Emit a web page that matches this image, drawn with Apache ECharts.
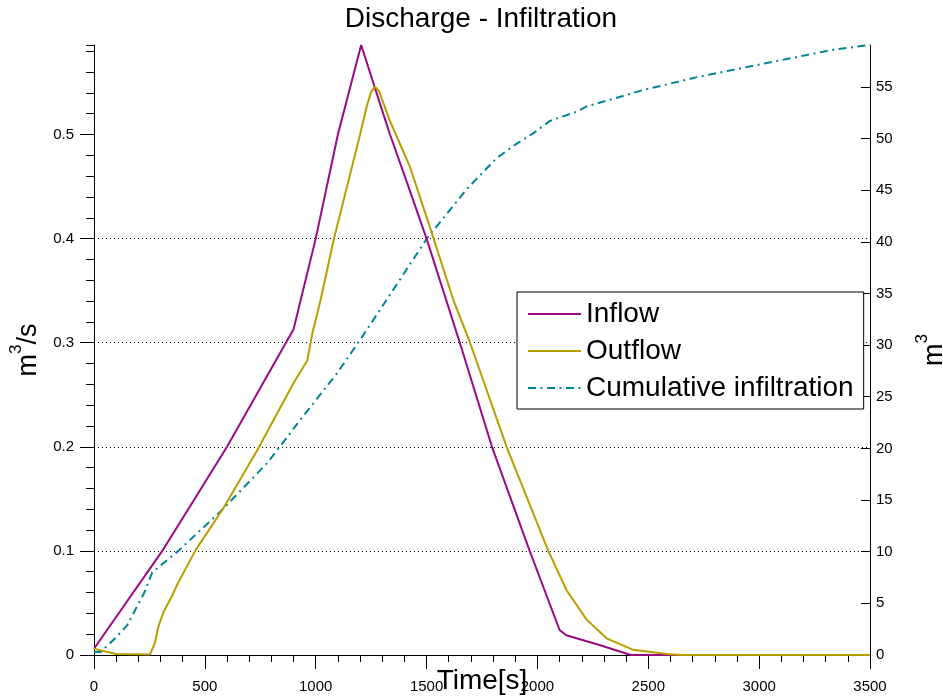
<!DOCTYPE html>
<html><head><meta charset="utf-8">
<script src="https://cdn.jsdelivr.net/npm/echarts@6/dist/echarts.min.js"></script>
<style>html,body{margin:0;padding:0;background:#fff}#c{width:943px;height:700px}</style>
</head><body><div id="c"></div>
<script>
// ---- data ----
const inflowT = [0, 308, 600, 900, 1000, 1100, 1205, 1300, 1335, 1400, 1500, 1650, 1795, 1965, 2100, 2130, 2280, 2400, 2420, 3500];
const inflowV = [0.006, 0.1, 0.2, 0.313, 0.4, 0.5, 0.586, 0.523, 0.5, 0.461, 0.4, 0.3, 0.2, 0.1, 0.024, 0.019, 0.0096, 0.0015, 0, 0];

const outflowT = [0, 100, 253, 275, 290, 313, 350, 376, 459, 586, 737, 902, 962, 985, 1022, 1080, 1200, 1230, 1250, 1267, 1285, 1335, 1425, 1515, 1621, 1696, 1861, 2049, 2132, 2222, 2312, 2432, 2583, 2650, 3500];
const outflowV = [0.006, 0.001, 0.0005, 0.012, 0.027, 0.041, 0.056, 0.068, 0.101, 0.142, 0.197, 0.262, 0.283, 0.309, 0.341, 0.398, 0.5, 0.527, 0.541, 0.546, 0.542, 0.513, 0.469, 0.411, 0.341, 0.3, 0.2, 0.1, 0.062, 0.034, 0.016, 0.005, 0.001, 0, 0];

const cumT = [0, 30, 60, 100, 150, 226, 263, 376, 571, 782, 932, 1097, 1203, 1308, 1400, 1501, 1681, 1816, 1900, 1981, 2057, 2177, 2222, 2478, 2733, 3034, 3335, 3500];
const cumV = [0.3, 0.3, 0.9, 1.7, 2.9, 6.0, 8.0, 10.0, 13.9, 18.6, 22.8, 27.3, 30.6, 34.0, 37.0, 40.3, 45.1, 48.1, 49.4, 50.5, 51.7, 52.6, 53.1, 54.7, 56.0, 57.3, 58.6, 59.05];

const leftTicks = [0, 0.1, 0.2, 0.3, 0.4, 0.5];
const rightTicks = [0, 5, 10, 15, 20, 25, 30, 35, 40, 45, 50, 55];
const seriesNames = ['Inflow', 'Outflow', 'Cumulative infiltration'];

const zip = (a, b) => a.map((t, i) => [t, b[i]]);
const FONT = 'Liberation Sans';
const black = '#000';
const plain = v => String(v);

const chart = echarts.init(document.getElementById('c'), null, {renderer: 'canvas'});
chart.setOption({
  animation: false,
  backgroundColor: '#fff',
  textStyle: {fontFamily: FONT},
  title: {
    text: 'Discharge - Infiltration',
    left: 476, top: 0, textAlign: 'center',
    textStyle: {fontFamily: FONT, fontSize: 28, fontWeight: 'normal', color: black}
  },
  legend: {
    orient: 'vertical', left: 517, top: 292,
    data: seriesNames,
    backgroundColor: '#fff', borderColor: black, borderWidth: 1, borderRadius: 0,
    padding: [8, 10, 7, 10],
    itemGap: 9, itemWidth: 53, itemHeight: 14,
    itemStyle: {opacity: 0},
    textStyle: {fontFamily: FONT, fontSize: 28, lineHeight: 28, color: black}
  },
  grid: {left: 94, right: 73, top: 45, bottom: 45, containLabel: false, outerBoundsMode: 'none'},
  xAxis: [{
    type: 'value', min: 0, max: 3500, interval: 500,
    name: 'Time[s]', nameLocation: 'middle', nameGap: 12, nameMoveOverlap: false,
    nameTextStyle: {fontFamily: FONT, fontSize: 28, color: black, verticalAlign: 'top'},
    axisLine: {show: true, onZero: false, lineStyle: {color: black, width: 1}},
    axisTick: {show: true, inside: false, length: 14, lineStyle: {color: black}},
    minorTick: {show: true, splitNumber: 5, length: 7, lineStyle: {color: black}},
    axisLabel: {margin: 24, fontFamily: FONT, fontSize: 15, color: black, formatter: plain},
    splitLine: {show: false}
  }],
  yAxis: [{
    type: 'value', position: 'left', min: 0, max: 0.586, interval: 0.1,
    name: '{b|m}{s|3}{b|/s}', nameLocation: 'middle', nameRotate: 90, nameGap: 52, nameMoveOverlap: false,
    nameTextStyle: {color: black, rich: {
      b: {fontFamily: FONT, fontSize: 27, color: black, lineHeight: 34, verticalAlign: 'bottom'},
      s: {fontFamily: FONT, fontSize: 17, color: black, lineHeight: 34, verticalAlign: 'top'}
    }},
    axisLine: {show: true, onZero: false, lineStyle: {color: black, width: 1}},
    axisTick: {show: true, inside: false, length: 14, customValues: leftTicks, lineStyle: {color: black}},
    minorTick: {show: false},
    axisLabel: {margin: 20, fontFamily: FONT, fontSize: 15, color: black, customValues: leftTicks, formatter: plain},
    splitLine: {show: true, showMinLine: false, showMaxLine: false, lineStyle: {color: black, width: 1, type: [1, 3]}}
  }, {
    type: 'value', position: 'right', min: 0, max: 59.05, interval: 5,
    name: '{b|m}{s|3}', nameLocation: 'middle', nameRotate: 90, nameGap: 44, nameMoveOverlap: false,
    nameTextStyle: {color: black, rich: {
      b: {fontFamily: FONT, fontSize: 27, color: black, lineHeight: 34, verticalAlign: 'bottom'},
      s: {fontFamily: FONT, fontSize: 17, color: black, lineHeight: 34, verticalAlign: 'top'}
    }},
    axisLine: {show: true, onZero: false, lineStyle: {color: black, width: 1}},
    axisTick: {show: true, inside: true, length: 9, customValues: rightTicks, lineStyle: {color: black}},
    axisLabel: {margin: 6, fontFamily: FONT, fontSize: 15, color: black, customValues: rightTicks, formatter: plain},
    splitLine: {show: false}
  }, {
    type: 'value', position: 'left', min: 0, max: 0.586, interval: 0.02,
    axisLine: {show: false},
    axisTick: {show: true, inside: false, length: 8, lineStyle: {color: black}},
    axisLabel: {show: false},
    splitLine: {show: false}
  }],
  series: [{
    name: seriesNames[0], type: 'line', xAxisIndex: 0, yAxisIndex: 0,
    data: zip(inflowT, inflowV), symbol: 'none', smooth: false, z: 3,
    lineStyle: {color: '#9a0a82', width: 2}, itemStyle: {color: '#9a0a82'}
  }, {
    name: seriesNames[1], type: 'line', xAxisIndex: 0, yAxisIndex: 0,
    data: zip(outflowT, outflowV), symbol: 'none', smooth: false, z: 4,
    lineStyle: {color: '#b89e00', width: 2}, itemStyle: {color: '#b89e00'}
  }, {
    name: seriesNames[2], type: 'line', xAxisIndex: 0, yAxisIndex: 1,
    data: zip(cumT, cumV), symbol: 'none', smooth: false, z: 2,
    lineStyle: {color: '#008595', width: 2, type: [8, 4.5, 2, 4.5]}, itemStyle: {color: '#008595'}
  }]
});
</script>
</body></html>
